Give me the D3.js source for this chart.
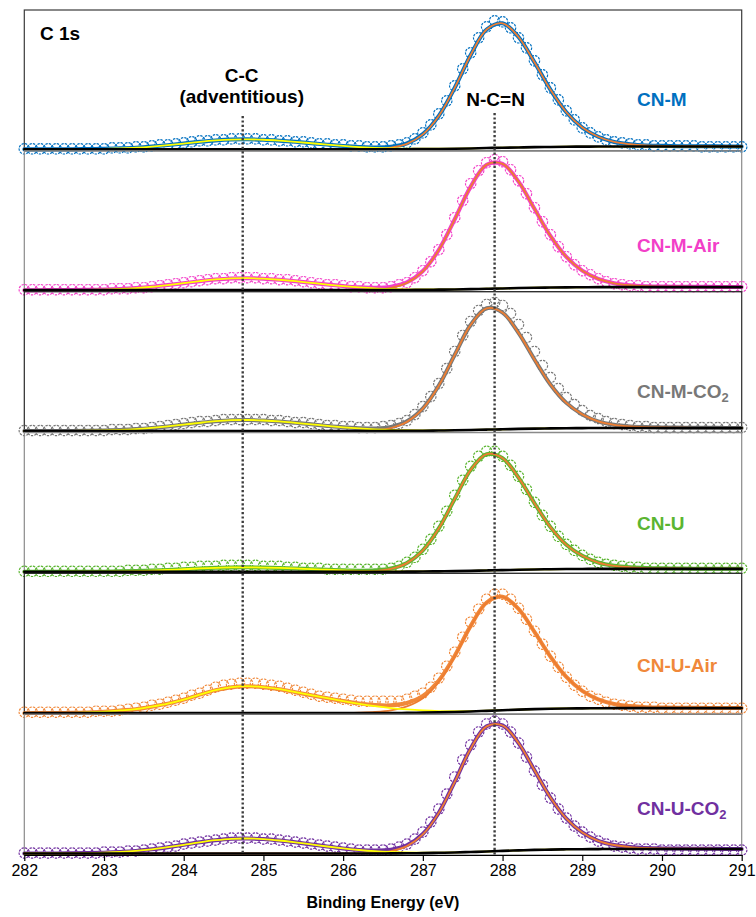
<!DOCTYPE html>
<html>
<head>
<meta charset="utf-8">
<script src="https://cdn.jsdelivr.net/npm/d3@7"></script>
<style>
  body { margin: 0; background: #fff; }
  svg { display: block; }
  text { font-family: Arial, "Liberation Sans", sans-serif; }
</style>
</head>
<body>
<svg id="chart" width="756" height="917"></svg>
<script>
// C 1s XPS spectra: measured points on a 0.1 eV grid, fitted components on a 0.2 eV grid.
const energyFine = [
  282,282.1,282.2,282.3,282.4,282.5,282.6,282.7,282.8,282.9,
  283,283.1,283.2,283.3,283.4,283.5,283.6,283.7,283.8,283.9,
  284,284.1,284.2,284.3,284.4,284.5,284.6,284.7,284.8,284.9,
  285,285.1,285.2,285.3,285.4,285.5,285.6,285.7,285.8,285.9,
  286,286.1,286.2,286.3,286.4,286.5,286.6,286.7,286.8,286.9,
  287,287.1,287.2,287.3,287.4,287.5,287.6,287.7,287.8,287.9,
  288,288.1,288.2,288.3,288.4,288.5,288.6,288.7,288.8,288.9,
  289,289.1,289.2,289.3,289.4,289.5,289.6,289.7,289.8,289.9,
  290,290.1,290.2,290.3,290.4,290.5,290.6,290.7,290.8,290.9,291
];
const energyCoarse = [
  282,282.2,282.4,282.6,282.8, 283,283.2,283.4,283.6,283.8,
  284,284.2,284.4,284.6,284.8, 285,285.2,285.4,285.6,285.8,
  286,286.2,286.4,286.6,286.8, 287,287.2,287.4,287.6,287.8,
  288,288.2,288.4,288.6,288.8, 289,289.2,289.4,289.6,289.8,
  290,290.2,290.4,290.6,290.8, 291
];

const sampleNames = ["CN-M", "CN-M-Air", "CN-M-CO2", "CN-U", "CN-U-Air", "CN-U-CO2"];
const sampleColors = ["#0070C0", "#F23FC8", "#787878", "#5BB531", "#F0883A", "#7030A0"];
const xTicks = [282, 283, 284, 285, 286, 287, 288, 289, 290, 291];
const peakRefs = [284.74, 287.9];   // C-C (adventitious), N-C=N

// Measured intensity (normalized, a.u.)
const cnM_counts = [2,2,2,2,2,2,2,2,2,2, 2,3,3,3,4,4,5,6,6,7, 8,9,10,10,11,11,12,12,12,12, 11,11,10,10,9,9,8,7,7,6, 6,5,5,4,4,4,5,6,8,12, 18,26,37,50,65,82,98,113,124,130, 129,123,113,103,90,76,63,51,40,31, 23,18,14,11,9,8,7,6,6,5, 5,5,5,5,5,4,4,4,4,4,4];
const cnMAir_counts = [2,2,2,2,2,2,2,2,2,2, 2,3,3,3,4,4,5,6,7,8, 9,10,11,12,13,13,14,14,14,14, 13,13,12,12,11,10,9,8,7,7, 6,5,5,4,4,4,5,7,9,14, 21,30,42,57,74,91,108,121,129,132, 130,122,111,98,84,70,57,45,35,27, 21,17,13,10,8,7,6,6,5,5, 5,5,5,5,5,5,5,5,5,5,5];
const cnMCO2_counts = [2,2,2,2,2,2,2,2,2,2, 2,3,3,3,4,4,5,6,7,8, 9,10,11,11,12,13,13,13,13,13, 13,12,12,11,10,10,9,8,7,7, 6,6,5,5,5,6,7,9,12,18, 26,36,49,64,81,97,111,122,128,130, 127,119,108,95,81,67,55,44,35,28, 22,17,14,11,9,8,7,6,6,5, 5,5,5,5,5,5,5,5,5,5,5];
const cnU_counts = [2,2,2,2,2,2,2,2,2,2, 2,2,2,3,3,3,4,4,5,5, 6,6,7,7,7,8,8,8,8,8, 7,7,7,6,6,5,5,5,4,4, 4,4,4,4,4,4,5,7,11,16, 24,34,47,62,78,93,107,117,122,122, 117,108,97,84,71,58,47,37,29,23, 18,14,11,9,8,7,6,6,5,5, 5,5,5,5,5,5,5,5,5,5,5];
const cnUAir_counts = [2,2,2,2,2,2,2,2,2,3, 3,3,4,5,6,7,9,10,12,14, 16,19,21,24,27,29,30,31,31,31, 30,29,28,26,24,22,20,18,17,16, 15,14,13,13,13,13,13,13,15,18, 21,27,36,48,62,77,92,105,115,120, 120,115,106,95,83,70,58,47,37,29, 23,18,15,12,10,9,8,7,7,7, 6,6,6,6,6,6,6,6,6,6,6];
const cnUCO2_counts = [2,2,2,2,2,2,2,2,2,2, 3,3,3,4,4,5,6,7,8,9, 11,12,13,14,15,16,17,17,17,17, 16,16,15,14,13,12,11,10,9,8, 7,6,5,5,5,5,6,8,11,16, 23,33,46,61,78,95,110,123,131,134, 131,123,112,98,84,70,57,46,37,29, 23,18,14,11,9,8,7,6,6,6, 5,5,5,5,5,5,5,5,5,5,5];

// C-C (adventitious) component, net of background
const cnM_cc = [0,0,0.1,0.1,0.3, 0.5,1.0,1.7,2.8,4.2, 5.8,7.5,8.9,9.8,10.0, 9.6,8.7,7.5,6.1,4.7, 3.4,2.3,1.5,0.9,0.5, 0.3,0.2,0.1,0,0, 0,0,0,0,0, 0,0,0,0,0, 0,0,0,0,0, 0];
const cnMAir_cc = [0,0,0.1,0.1,0.3, 0.6,1.2,2.1,3.4,5.1, 7.0,9.0,10.7,11.7,12.0, 11.5,10.4,9.0,7.3,5.6, 4.1,2.8,1.8,1.1,0.6, 0.4,0.2,0.1,0,0, 0,0,0,0,0, 0,0,0,0,0, 0,0,0,0,0, 0];
const cnMCO2_cc = [0,0,0.1,0.1,0.3, 0.6,1.1,1.9,3.1,4.6, 6.4,8.2,9.8,10.8,11.0, 10.5,9.6,8.2,6.7,5.1, 3.7,2.6,1.7,1.0,0.6, 0.3,0.2,0.1,0,0, 0,0,0,0,0, 0,0,0,0,0, 0,0,0,0,0, 0];
const cnU_cc = [0,0,0,0.1,0.1, 0.2,0.5,0.8,1.3,1.9, 2.6,3.4,4.0,4.4,4.5, 4.3,3.9,3.4,2.7,2.1, 1.5,1.0,0.7,0.4,0.2, 0.1,0.1,0,0,0, 0,0,0,0,0, 0,0,0,0,0, 0,0,0,0,0, 0];
const cnUAir_cc = [0,0.1,0.1,0.3,0.7, 1.4,2.7,4.0,6.5,9.5, 13.5,18.5,23.0,26.0,27.0, 26.0,24.0,21.0,18.0,15.0, 12.0,9.3,7.0,5.0,3.4, 2.2,1.3,0.7,0.4,0.2, 0.1,0,0,0,0, 0,0,0,0,0, 0,0,0,0,0, 0];
const cnUCO2_cc = [0,0,0.1,0.2,0.4, 0.8,1.5,2.6,4.2,6.3, 8.7,11.2,13.3,14.7,15.0, 14.4,13.0,11.2,9.1,7.0, 5.1,3.5,2.3,1.4,0.8, 0.5,0.2,0.1,0.1,0, 0,0,0,0,0, 0,0,0,0,0, 0,0,0,0,0, 0];

// N-C=N component, net of background
const cnM_ncn = [0,0,0,0,0, 0,0,0,0,0, 0,0,0,0,0, 0,0,0,0,0, 0,0.1,0.4,1.6,5.4, 14.6,32.9,60.9,93.4,118.5, 124.4,110.4,84.8,57.3,34.5, 19.1,9.8,4.6,2.3,1.1, 0.7,0.4,0.3,0.3,0.1, 0.1];
const cnMAir_ncn = [0,0,0,0,0, 0,0,0,0,0, 0,0,0,0,0, 0,0,0,0,0, 0,0.1,0.6,2.3,7.1, 18.5,39.6,70.1,102.5,124.1, 124.5,106.4,79.0,51.7,30.5, 16.6,8.3,3.9,1.9,1.0, 0.6,0.4,0.3,0.3,0.1, 0.1];
const cnMCO2_ncn = [0,0,0,0,0, 0,0,0,0,0, 0,0,0,0,0, 0,0,0,0,0, 0,0.2,0.8,2.9,8.9, 22.0,44.7,75.4,105.2,121.3, 116.6,96.0,69.1,43.9,25.3, 13.7,6.6,3.2,1.6,0.9, 0.6,0.4,0.2,0.2,0.1, 0.1];
const cnU_ncn = [0,0,0,0,0, 0,0,0,0,0, 0,0,0,0,0, 0,0,0,0,0, 0,0.2,0.8,2.8,8.5, 21.1,42.8,72.3,100.9,116.3, 111.9,92.1,66.2,42.1,24.2, 13.1,6.3,3.0,1.5,0.8, 0.5,0.4,0.2,0.2,0.1, 0.1];
const cnUAir_ncn = [0,0,0,0,0, 0,0,0,0,0, 0,0,0,0,0, 0,0,0,0,0, 0.2,0.5,1.2,2.8,6.5, 14.5,30.5,55.5,85.2,108.1, 113.4,100.7,77.3,52.2,31.5, 17.4,8.9,4.2,2.1,1.0, 0.6,0.4,0.3,0.2,0.1, 0.1];
const cnUCO2_ncn = [0,0,0,0,0, 0,0,0,0,0, 0,0,0,0,0, 0,0,0,0,0, 0,0.1,0.6,2.3,7.2, 18.7,39.9,70.7,103.3,125.1, 125.4,107.3,79.6,52.1,30.7, 16.8,8.3,4.0,1.9,1.0, 0.6,0.4,0.3,0.3,0.1, 0.1];

// Shirley background
const cnM_bg = [1.5,1.5,1.5,1.5,1.5, 1.5,1.5,1.5,1.5,1.5, 1.5,1.5,1.5,1.5,1.5, 1.5,1.5,1.5,1.5,1.5, 1.5,1.5,1.5,1.6,1.6, 1.8,1.9,2.1,2.4,2.8, 3.1,3.4,3.7,3.9,4.1, 4.2,4.3,4.3,4.3,4.3, 4.3,4.3,4.3,4.3,4.3, 4.3];
const cnMAir_bg = [1.5,1.5,1.5,1.5,1.5, 1.5,1.5,1.5,1.5,1.5, 1.5,1.5,1.5,1.5,1.5, 1.5,1.5,1.5,1.5,1.5, 1.5,1.5,1.5,1.6,1.7, 1.8,2.0,2.2,2.5,2.9, 3.2,3.6,3.9,4.1,4.3, 4.4,4.5,4.5,4.5,4.5, 4.5,4.5,4.5,4.5,4.5, 4.5];
const cnMCO2_bg = [1.5,1.5,1.5,1.5,1.5, 1.5,1.5,1.5,1.5,1.5, 1.5,1.5,1.5,1.5,1.5, 1.5,1.5,1.5,1.5,1.5, 1.5,1.5,1.5,1.6,1.7, 1.8,2.0,2.2,2.5,2.9, 3.2,3.6,3.9,4.1,4.3, 4.4,4.5,4.5,4.5,4.5, 4.5,4.5,4.5,4.5,4.5, 4.5];
const cnU_bg = [1.5,1.5,1.5,1.5,1.5, 1.5,1.5,1.5,1.5,1.5, 1.5,1.5,1.5,1.5,1.5, 1.5,1.5,1.5,1.5,1.5, 1.5,1.5,1.5,1.6,1.7, 1.8,2.0,2.2,2.5,2.9, 3.2,3.6,3.9,4.1,4.3, 4.4,4.5,4.5,4.5,4.5, 4.5,4.5,4.5,4.5,4.5, 4.5];
const cnUAir_bg = [1.0,1.0,1.0,1.0,1.0, 1.0,1.0,1.0,1.0,1.0, 1.0,1.0,1.0,1.0,1.0, 1.0,1.0,1.0,1.0,1.0, 1.0,1.0,1.0,1.1,1.3, 1.5,1.8,2.2,2.7,3.3, 3.9,4.5,5.0,5.4,5.7, 5.8,5.9,6.0,6.0,6.0, 6.0,6.0,6.0,6.0,6.0, 6.0];
const cnUCO2_bg = [1.5,1.5,1.5,1.5,1.5, 1.5,1.5,1.5,1.5,1.5, 1.5,1.5,1.5,1.5,1.5, 1.5,1.5,1.5,1.5,1.5, 1.5,1.5,1.5,1.6,1.7, 1.9,2.2,2.5,3.0,3.5, 4.1,4.6,5.1,5.4,5.7, 5.8,5.9,6.0,6.0,6.0, 6.0,6.0,6.0,6.0,6.0, 6.0];

const countSeries = [cnM_counts, cnMAir_counts, cnMCO2_counts, cnU_counts, cnUAir_counts, cnUCO2_counts];
const ccSeries = [cnM_cc, cnMAir_cc, cnMCO2_cc, cnU_cc, cnUAir_cc, cnUCO2_cc];
const ncnSeries = [cnM_ncn, cnMAir_ncn, cnMCO2_ncn, cnU_ncn, cnUAir_ncn, cnUCO2_ncn];
const bgSeries = [cnM_bg, cnMAir_bg, cnMCO2_bg, cnU_bg, cnUAir_bg, cnUCO2_bg];

// ---- layout ----
const plotLeft = 24.3, plotRight = 741.7, plotTop = 10, plotBottom = 855;
const intensityMax = 140.8;
const frameColors = ["#3a3a3a", "#8a8a8a", "#2a2a2a", "#8a8a8a", "#2a2a2a", "#8a8a8a"];
const labelDy = [96, 101, 106.5, 97.5, 98.7, 100.8];
const ncnColor = "#ED7D31", ccColor = "#FFFF00";
const labelSize = 19;

const svg = d3.select("#chart");
const x = d3.scaleLinear().domain([282, 291]).range([plotLeft, plotRight]);
const panelH = (plotBottom - plotTop) / sampleNames.length;

sampleNames.forEach((name, i) => {
  const top = plotTop + i * panelH, bottom = top + panelH;
  const y = d3.scaleLinear().domain([0, intensityMax]).range([bottom, top]);
  const color = sampleColors[i];
  const counts = countSeries[i], cc = ccSeries[i], ncn = ncnSeries[i], bg = bgSeries[i];
  const g = svg.append("g").attr("class", "panel");

  g.append("rect")
    .attr("x", plotLeft).attr("y", top)
    .attr("width", plotRight - plotLeft).attr("height", panelH)
    .attr("fill", "none").attr("stroke", frameColors[i]).attr("stroke-width", 1.2);

  // measured points
  g.append("g").selectAll("circle").data(counts).join("circle")
    .attr("cx", (d, j) => x(energyFine[j]))
    .attr("cy", d => y(d))
    .attr("r", 5.2)
    .attr("fill", "none")
    .attr("stroke", color)
    .attr("stroke-width", 1.15)
    .attr("stroke-dasharray", "2.4 1.1");

  const line = d3.line()
    .x((d, j) => x(energyCoarse[j]))
    .y(d => y(d))
    .curve(d3.curveCatmullRom.alpha(0.5));

  const envelope = bg.map((b, j) => b + cc[j] + ncn[j]);
  const ccLine = bg.map((b, j) => b + cc[j]);
  const ncnLine = bg.map((b, j) => b + ncn[j]);

  const drawLine = (vals, stroke, width) => g.append("path")
    .attr("d", line(vals)).attr("fill", "none")
    .attr("stroke", stroke).attr("stroke-width", width)
    .attr("stroke-linejoin", "round").attr("stroke-linecap", "round");

  drawLine(envelope, color, 4);
  drawLine(ncnLine, ncnColor, 1.8);
  drawLine(ccLine, ccColor, 1.8);
  drawLine(bg, "#000", 2.6);

  // sample label, with subscript for CO2
  const t = g.append("text")
    .attr("x", 637).attr("y", top + labelDy[i])
    .attr("font-size", labelSize).attr("font-weight", "bold").attr("fill", color);
  const m = name.match(/^(.*CO)2$/);
  if (m) {
    t.append("tspan").text(m[1]);
    t.append("tspan").text("2").attr("font-size", 13).attr("dy", 4);
  } else {
    t.text(name);
  }
});

// x axis
const axis = d3.axisBottom(x).tickValues(xTicks).tickFormat(d3.format("d"))
  .tickSize(6).tickSizeOuter(0).tickPadding(4);
svg.append("g")
  .attr("transform", `translate(0,${plotBottom})`)
  .call(axis)
  .attr("font-size", 16)
  .attr("font-family", "Arial, 'Liberation Sans', sans-serif")
  .call(g => g.select(".domain").attr("stroke", "#000").attr("stroke-width", 1.2))
  .call(g => g.selectAll(".tick line").attr("stroke", "#000").attr("stroke-width", 1.2))
  .call(g => g.selectAll(".tick text").attr("fill", "#000"));

svg.append("text")
  .attr("x", (plotLeft + plotRight) / 2).attr("y", 908)
  .attr("text-anchor", "middle")
  .attr("font-size", 16).attr("font-weight", "bold")
  .text("Binding Energy (eV)");

// peak reference lines
const refTop = [116, 113];
peakRefs.forEach((be, k) => {
  svg.append("line")
    .attr("x1", x(be)).attr("x2", x(be))
    .attr("y1", refTop[k]).attr("y2", plotBottom)
    .attr("stroke", "#3c3c3c").attr("stroke-width", 2.4)
    .attr("stroke-dasharray", "2.2 2.2");
});

// annotations
svg.append("text").attr("x", 40).attr("y", 40)
  .attr("font-size", labelSize).attr("font-weight", "bold").text("C 1s");
svg.append("text").attr("x", x(peakRefs[0]) - 1).attr("y", 81.5)
  .attr("text-anchor", "middle").attr("font-size", labelSize).attr("font-weight", "bold").text("C-C");
svg.append("text").attr("x", x(peakRefs[0]) - 1).attr("y", 103)
  .attr("text-anchor", "middle").attr("font-size", labelSize).attr("font-weight", "bold").text("(adventitious)");
svg.append("text").attr("x", x(peakRefs[1]) + 1).attr("y", 106)
  .attr("text-anchor", "middle").attr("font-size", labelSize).attr("font-weight", "bold").text("N-C=N");
</script>
</body>
</html>
